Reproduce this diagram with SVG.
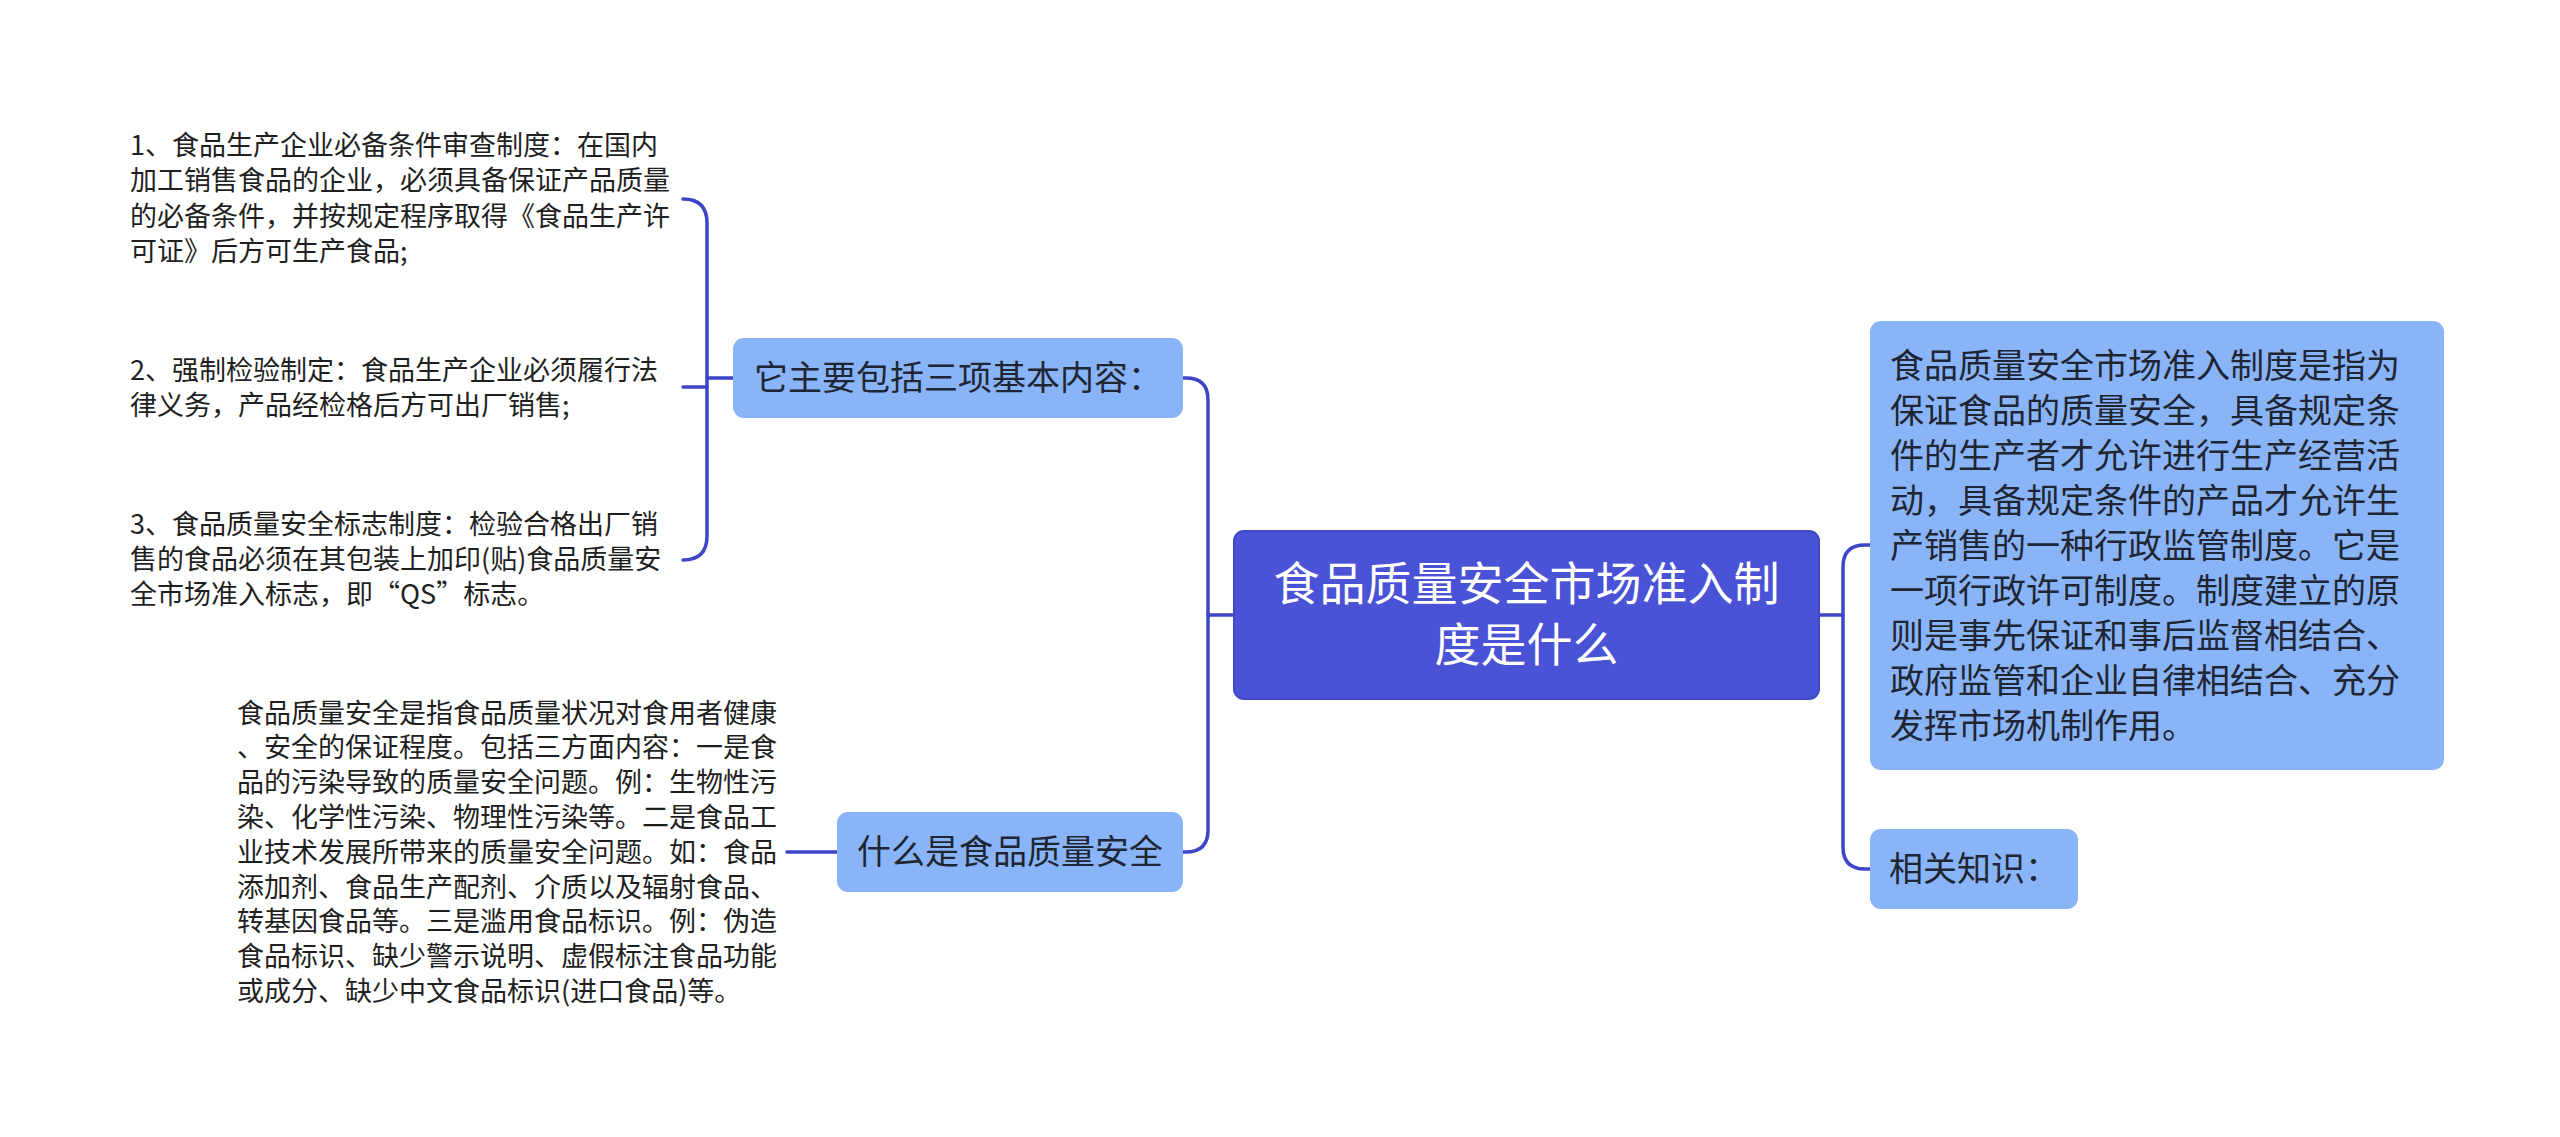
<svg xmlns="http://www.w3.org/2000/svg" width="2560" height="1137" viewBox="0 0 2560 1137">
<style>
.bg{fill:#ffffff}
.root{fill:#4a52d6;stroke:#3f47c4;stroke-width:2}
.sub{fill:#8ab4f8}
.rt{font-family:"Noto Sans CJK SC","Liberation Sans",sans-serif;font-size:46px;fill:#ffffff;text-anchor:middle}
.st{font-family:"Noto Sans CJK SC","Liberation Sans",sans-serif;font-size:34px;fill:#1f2633}
.lt{font-family:"Noto Sans CJK SC","Liberation Sans",sans-serif;font-size:27px;fill:#1f1f1f}
.ln{fill:none;stroke:#3d46c6;stroke-width:3.5;stroke-linecap:round}
</style>
<rect class="bg" x="0" y="0" width="2560" height="1137"/>
<g id="connectors">
<path class="ln" d="M1234,615 H1208"/>
<path class="ln" d="M1183,378 H1186 Q1208,378 1208,400 V830 Q1208,852 1186,852 H1183"/>
<path class="ln" d="M1819,615 H1843"/>
<path class="ln" d="M1870,545 H1865 Q1843,545 1843,567 V847 Q1843,869 1865,869 H1870"/>
<path class="ln" d="M733,378 H707"/>
<path class="ln" d="M683,199 Q707,199 707,223 V536 Q707,560 683,560"/>
<path class="ln" d="M683,387 H707"/>
<path class="ln" d="M837,852 H787"/>
</g>
<g id="root">
<rect class="root" x="1234" y="531" width="585" height="168" rx="10"/>
<text class="rt" x="1526.5" y="600">食品质量安全市场准入制</text>
<text class="rt" x="1526.5" y="661">度是什么</text>
</g>
<g id="node-a">
<rect class="sub" x="733" y="338" width="450" height="80" rx="11"/>
<text class="st" x="958" y="390" text-anchor="middle">它主要包括三项基本内容：</text>
</g>
<g id="node-b">
<rect class="sub" x="837" y="812" width="346" height="80" rx="11"/>
<text class="st" x="1010" y="864" text-anchor="middle">什么是食品质量安全</text>
</g>
<g id="node-c">
<rect class="sub" x="1870" y="321" width="574" height="449" rx="11"/>
<text class="st" x="1890">
<tspan x="1890" y="377.5">食品质量安全市场准入制度是指为</tspan>
<tspan x="1890" y="422.5">保证食品的质量安全，具备规定条</tspan>
<tspan x="1890" y="467.5">件的生产者才允许进行生产经营活</tspan>
<tspan x="1890" y="512.5">动，具备规定条件的产品才允许生</tspan>
<tspan x="1890" y="557.5">产销售的一种行政监管制度。它是</tspan>
<tspan x="1890" y="602.5">一项行政许可制度。制度建立的原</tspan>
<tspan x="1890" y="647.5">则是事先保证和事后监督相结合、</tspan>
<tspan x="1890" y="692.5">政府监管和企业自律相结合、充分</tspan>
<tspan x="1890" y="737.5">发挥市场机制作用。</tspan>
</text>
</g>
<g id="node-d">
<rect class="sub" x="1870" y="829" width="208" height="80" rx="11"/>
<text class="st" x="1974" y="881" text-anchor="middle">相关知识：</text>
</g>
<g id="leaf-1">
<text class="lt">
<tspan x="130" y="154.5">1、食品生产企业必备条件审查制度：在国内</tspan>
<tspan x="130" y="190">加工销售食品的企业，必须具备保证产品质量</tspan>
<tspan x="130" y="225.5">的必备条件，并按规定程序取得《食品生产许</tspan>
<tspan x="130" y="261">可证》后方可生产食品;</tspan>
</text>
</g>
<g id="leaf-2">
<text class="lt">
<tspan x="130" y="379.5">2、强制检验制定：食品生产企业必须履行法</tspan>
<tspan x="130" y="414.5">律义务，产品经检格后方可出厂销售;</tspan>
</text>
</g>
<g id="leaf-3">
<text class="lt">
<tspan x="130" y="533.5">3、食品质量安全标志制度：检验合格出厂销</tspan>
<tspan x="130" y="568.5">售的食品必须在其包装上加印(贴)食品质量安</tspan>
<tspan x="130" y="603.5">全市场准入标志，即“QS”标志。</tspan>
</text>
</g>
<g id="leaf-4">
<text class="lt">
<tspan x="237" y="722.5">食品质量安全是指食品质量状况对食用者健康</tspan>
<tspan x="237" y="757">、安全的保证程度。包括三方面内容：一是食</tspan>
<tspan x="237" y="792">品的污染导致的质量安全问题。例：生物性污</tspan>
<tspan x="237" y="827">染、化学性污染、物理性污染等。二是食品工</tspan>
<tspan x="237" y="861.5">业技术发展所带来的质量安全问题。如：食品</tspan>
<tspan x="237" y="896.5">添加剂、食品生产配剂、介质以及辐射食品、</tspan>
<tspan x="237" y="931">转基因食品等。三是滥用食品标识。例：伪造</tspan>
<tspan x="237" y="966">食品标识、缺少警示说明、虚假标注食品功能</tspan>
<tspan x="237" y="1001">或成分、缺少中文食品标识(进口食品)等。</tspan>
</text>
</g>
</svg>
